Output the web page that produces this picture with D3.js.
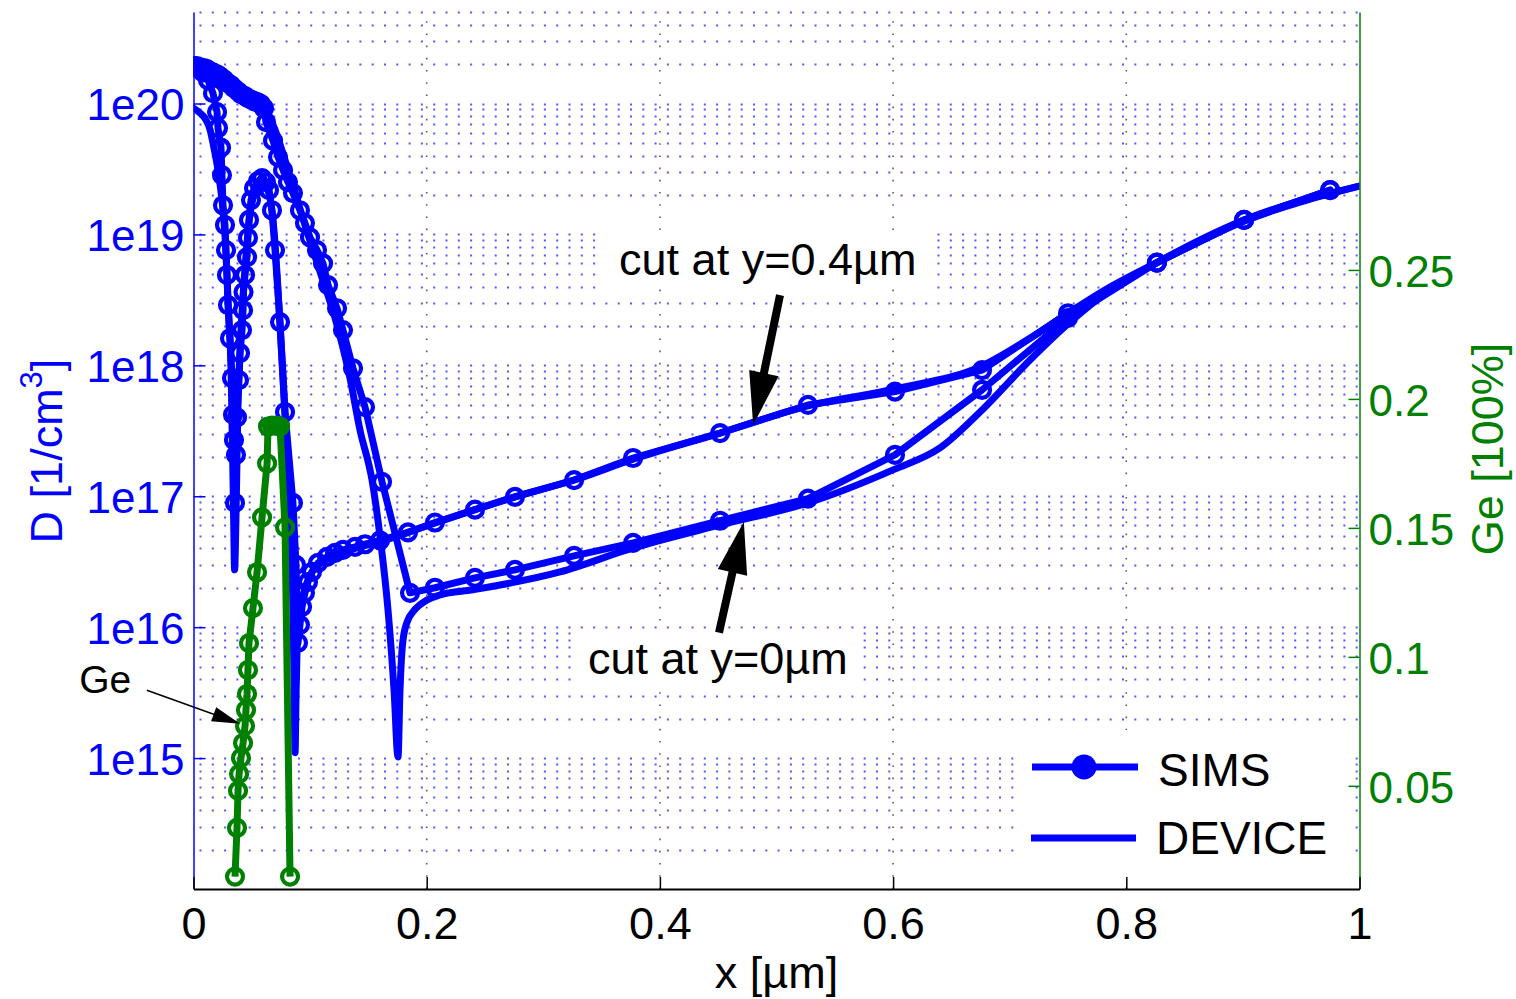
<!DOCTYPE html>
<html>
<head>
<meta charset="utf-8">
<script src="https://cdn.jsdelivr.net/npm/d3@7"></script>
<style>
  body { margin: 0; background: #fff; }
  svg { display: block; }
  text { font-family: "Liberation Sans", Arial, Helvetica, sans-serif; }
</style>
</head>
<body>
<svg id="chart" width="1516" height="999"></svg>
<script>
// ---------------- axis ticks ----------------
const xTicks = [0, 0.2, 0.4, 0.6, 0.8, 1];
const dTicks = [1e15, 1e16, 1e17, 1e18, 1e19, 1e20];
const geTicks = [0.05, 0.1, 0.15, 0.2, 0.25];

// ---------------- cut at y = 0.4 µm ----------------
const simsCut04X = [0, 0.0039, 0.0081, 0.0124, 0.0167, 0.0202, 0.0210, 0.0236, 0.0244, 0.0253,
  0.0270, 0.0279, 0.0287, 0.0296, 0.0313, 0.0330, 0.0339, 0.0347, 0.0356, 0.0364,
  0.0373, 0.0390, 0.0399, 0.0416, 0.0425, 0.0429, 0.0442, 0.0459, 0.0467, 0.0476,
  0.0493, 0.0519, 0.0553, 0.0588, 0.0622, 0.0648, 0.0673, 0.0699, 0.0742, 0.0785,
  0.0853, 0.0879, 0.0896, 0.0913, 0.0931, 0.0956, 0.0982, 0.1016, 0.1068, 0.1145,
  0.1214, 0.1282, 0.1385, 0.1471, 0.1600, 0.1840, 0.2071, 0.2414, 0.2757, 0.3264,
  0.3770, 0.4516, 0.5270, 0.6016, 0.6763, 0.7500, 0.8263, 0.9010, 0.9748];
const simsCut04D = [1.93e20, 1.86e20, 1.73e20, 1.51e20, 1.2e20, 8.6e19, 6.5e19, 4.6e19, 2.84e19, 1.67e19,
  1.18e19, 7.6e18, 4.9e18, 2.89e18, 1.61e18, 8.0e17, 4.2e17, 2.69e17, 8.9e16, 2.07e17,
  4.0e17, 7.7e17, 1.24e18, 1.86e18, 2.64e18, 3.63e18, 4.9e18, 6.7e18, 9.4e18, 1.29e19,
  1.83e19, 2.26e19, 2.55e19, 2.69e19, 2.51e19, 2.18e19, 1.53e19, 7.6e18, 2.14e18, 4.4e17,
  8.9e16, 2.99e16, 7.6e15, 1.04e16, 1.43e16, 1.83e16, 2.21e16, 2.64e16, 3.10e16, 3.44e16,
  3.7e16, 3.9e16, 4.1e16, 4.3e16, 4.6e16, 5.3e16, 6.3e16, 7.9e16, 9.9e16, 1.33e17,
  1.96e17, 3.04e17, 4.98e17, 6.3e17, 9.2e17, 2.5e18, 6.1e18, 1.29e19, 2.18e19];

const devCut04X = [0, 0.0047, 0.0099, 0.0142, 0.0167, 0.0193, 0.0210, 0.0244, 0.0270, 0.0287,
  0.0304, 0.0322, 0.0330, 0.0339, 0.0347, 0.0352, 0.0364, 0.0373, 0.0382, 0.0399,
  0.0425, 0.0450, 0.0476, 0.0510, 0.0553, 0.0588, 0.0622, 0.0656, 0.0690, 0.0725,
  0.0768, 0.0810, 0.0836, 0.0853, 0.0862, 0.0871, 0.0879, 0.0888, 0.0905, 0.0931,
  0.0965, 0.1016, 0.1085, 0.1214, 0.1385, 0.1600, 0.1840, 0.2414, 0.2757, 0.3264,
  0.3770, 0.4516, 0.5270, 0.6016, 0.6763, 0.7174, 0.7500, 0.7860, 0.8263, 0.9010, 1.0];
const devCut04D = [9.2e19, 8.6e19, 7.7e19, 6.3e19, 5.0e19, 3.8e19, 3.1e19, 1.83e19, 9.9e18, 4.9e18,
  2.22e18, 9.2e17, 3.8e17, 1.33e17, 4.6e16, 2.74e16, 6.6e16, 1.89e17, 5.4e17, 1.31e18,
  3.4e18, 6.9e18, 1.24e19, 1.89e19, 2.34e19, 2.51e19, 2.34e19, 1.89e19, 1.08e19, 3.76e18,
  7.7e17, 1.59e17, 4.6e16, 1.36e16, 4.0e15, 1.1e15, 2.8e15, 6.6e15, 1.13e16, 1.61e16,
  2.1e16, 2.64e16, 3.05e16, 3.5e16, 4.0e16, 4.5e16, 5.3e16, 7.9e16, 9.9e16, 1.33e17,
  1.92e17, 3.04e17, 4.9e17, 6.6e17, 9.9e17, 1.61e18, 2.5e18, 3.96e18, 6.1e18, 1.26e19, 2.34e19];

// ---------------- cut at y = 0 µm ----------------
const simsCut0X = [0, 0.003, 0.0056, 0.009, 0.0116, 0.0142, 0.0167, 0.0202, 0.0227, 0.0262,
  0.0287, 0.0322, 0.0347, 0.0382, 0.0407, 0.0442, 0.0467, 0.0502, 0.0527, 0.0553,
  0.0579, 0.0605, 0.0622, 0.0682, 0.0725, 0.0768, 0.0810, 0.0853, 0.0913, 0.0956,
  0.0999, 0.1059, 0.1111, 0.1154, 0.1231, 0.1282, 0.1368, 0.1471, 0.1617, 0.1857,
  0.2071, 0.2414, 0.2757, 0.3264, 0.3770, 0.4516, 0.5270, 0.6016, 0.6763, 0.7500,
  0.8263, 0.9010, 0.9748];
const simsCut0D = [1.93e20, 1.93e20, 1.89e20, 1.86e20, 1.83e20, 1.76e20, 1.73e20, 1.67e20, 1.62e20, 1.53e20,
  1.45e20, 1.38e20, 1.31e20, 1.24e20, 1.18e20, 1.14e20, 1.10e20, 1.06e20, 1.04e20, 1.02e20,
  9.9e19, 9.2e19, 7.2e19, 5.2e19, 3.9e19, 3.1e19, 2.51e19, 2.07e19, 1.53e19, 1.22e19,
  9.5e18, 7.6e18, 6.0e18, 4.1e18, 2.73e18, 1.86e18, 9.5e17, 4.8e17, 1.29e17, 1.83e16,
  2.0e16, 2.38e16, 2.74e16, 3.5e16, 4.4e16, 6.5e16, 9.6e16, 2.07e17, 6.5e17, 2.3e18,
  6.1e18, 1.29e19, 2.18e19];

const devCut0X = [0, 0.0167, 0.0347, 0.0527, 0.0613, 0.0699, 0.0785, 0.0871, 0.0956, 0.1085,
  0.1214, 0.1342, 0.1428, 0.1531, 0.1600, 0.1668, 0.1720, 0.1754, 0.1771, 0.1797,
  0.1840, 0.1883, 0.2003, 0.2114, 0.2397, 0.3143, 0.3770, 0.4516, 0.5270, 0.5999,
  0.6402, 0.6763, 0.7174, 0.7517, 0.7860, 0.8263, 0.9010, 1.0];
const devCut0D = [1.93e20, 1.76e20, 1.36e20, 1.06e20, 9.2e19, 6.3e19, 3.7e19, 2.1e19, 1.18e19, 5.2e18,
  2.3e18, 8.0e17, 3.2e17, 1.33e17, 4.9e16, 1.36e16, 3.3e15, 1.02e15, 3.3e15, 8.0e15,
  1.14e16, 1.31e16, 1.61e16, 1.76e16, 1.93e16, 2.64e16, 4.03e16, 6.04e16, 8.9e16, 1.59e17,
  2.34e17, 4.56e17, 1.10e18, 2.14e18, 3.76e18, 6.1e18, 1.29e19, 2.34e19];

// ---------------- Ge fraction (SIMS) ----------------
const geX = [0.0356, 0.0373, 0.0382, 0.0391, 0.0407, 0.0425, 0.0442, 0.0450, 0.0459, 0.0467,
  0.0476, 0.0510, 0.0545, 0.0588, 0.0631, 0.0639, 0.0673, 0.0708, 0.0742, 0.0785, 0.0828];
const geFrac = [0.0148, 0.0337, 0.0481, 0.0546, 0.0608, 0.0666, 0.0732, 0.0794, 0.0856, 0.0949,
  0.1053, 0.1189, 0.1328, 0.1541, 0.175, 0.1893, 0.1897, 0.1897, 0.1893, 0.1502, 0.0148];

// ---------------- drawing ----------------
const BLUE = "#0000ff", GREEN = "#008000";
const LINE_W = 7, MARK_R = 8, MARK_W = 4.2;
const svg = d3.select("#chart");
svg.append("rect").attr("width", 1516).attr("height", 999).attr("fill", "#fff");

const x = d3.scaleLinear().domain([0, 1]).range([193.5, 1359.5]);
const yD = d3.scaleLog().domain([1e14, 5e20]).range([889, 12]);
const yG = d3.scaleLinear().domain([0.01, 0.35]).range([889, 12]);

const [L, R] = x.range();
const [B, T] = yD.range();

// minor log positions
const minorD = [];
for (let e = 14; e <= 20; e++) {
  for (let k = 2; k <= 9; k++) {
    const v = k * Math.pow(10, e);
    if (v <= 5e20) minorD.push(v);
  }
}

// grid
const grid = svg.append("g");
grid.selectAll("line.h").data(minorD.concat(dTicks)).join("line")
  .attr("x1", L + 6).attr("x2", R)
  .attr("y1", d => Math.round(yD(d)) + 0.5).attr("y2", d => Math.round(yD(d)) + 0.5)
  .attr("stroke", "#3a3aff").attr("stroke-opacity", 0.85).attr("stroke-width", 2)
  .attr("stroke-dasharray", "2 10.3");
grid.selectAll("line.v").data(xTicks.filter(d => d > 0 && d < 1)).join("line")
  .attr("x1", d => x(d)).attr("x2", d => x(d)).attr("y1", B).attr("y2", T)
  .attr("stroke", "#333").attr("stroke-opacity", 0.8).attr("stroke-width", 1.6)
  .attr("stroke-dasharray", "1.6 10.6");

const plot = svg.append("g");
svg.append("clipPath").attr("id", "clip").append("rect")
  .attr("x", L).attr("y", T - 20).attr("width", R - L).attr("height", B - T + 20);
plot.attr("clip-path", "url(#clip)");

const pts = (xs, ys) => xs.map((v, i) => [v, ys[i]]);
const lineD = d3.line().x(d => x(d[0])).y(d => yD(d[1]));
const lineDev = d3.line().x(d => x(d[0])).y(d => yD(d[1])).curve(d3.curveMonotoneX);
const lineG = d3.line().x(d => x(d[0])).y(d => yG(d[1]));

const series = [
  { p: pts(devCut0X, devCut0D), dev: true },
  { p: pts(devCut04X, devCut04D), dev: true },
  { p: pts(simsCut0X, simsCut0D), dev: false },
  { p: pts(simsCut04X, simsCut04D), dev: false }
];
series.forEach(s => {
  plot.append("path").attr("d", (s.dev ? lineDev : lineD)(s.p))
    .attr("fill", "none").attr("stroke", BLUE).attr("stroke-width", LINE_W)
    .attr("stroke-linejoin", "round").attr("stroke-linecap", "round");
});
series.filter(s => !s.dev).forEach(s => {
  plot.append("g").selectAll("circle").data(s.p).join("circle")
    .attr("cx", d => x(d[0])).attr("cy", d => yD(d[1])).attr("r", MARK_R)
    .attr("fill", "none").attr("stroke", BLUE).attr("stroke-width", MARK_W);
});

const gePts = pts(geX, geFrac);
plot.append("path").attr("d", lineG(gePts))
  .attr("fill", "none").attr("stroke", GREEN).attr("stroke-width", LINE_W)
  .attr("stroke-linejoin", "round");
plot.append("g").selectAll("circle").data(gePts).join("circle")
  .attr("cx", d => x(d[0])).attr("cy", d => yG(d[1])).attr("r", MARK_R)
  .attr("fill", "none").attr("stroke", GREEN).attr("stroke-width", MARK_W);

// annotations
function arrowPoly(x0, y0, x1, y1, shaft, headL, headW) {
  const dx = x1 - x0, dy = y1 - y0, len = Math.hypot(dx, dy);
  const ux = dx / len, uy = dy / len, px = -uy, py = ux;
  const bx = x1 - ux * headL, by = y1 - uy * headL;
  return [
    [x0 + px * shaft / 2, y0 + py * shaft / 2],
    [bx + px * shaft / 2, by + py * shaft / 2],
    [bx + px * headW / 2, by + py * headW / 2],
    [x1, y1],
    [bx - px * headW / 2, by - py * headW / 2],
    [bx - px * shaft / 2, by - py * shaft / 2],
    [x0 - px * shaft / 2, y0 - py * shaft / 2]
  ].map(p => p.join(",")).join(" ");
}

const ann = svg.append("g");
function label(txt, xv, dv, size) {
  const t = ann.append("text").attr("x", x(xv)).attr("y", yD(dv))
    .attr("font-size", size).attr("fill", "#000").text(txt);
  const bb = t.node().getBBox();
  ann.insert("rect", "text").attr("x", bb.x - 14).attr("y", bb.y - 4)
    .attr("width", bb.width + 28).attr("height", bb.height + 8).attr("fill", "#fff");
  return t;
}
label("cut at y=0.4µm", 0.365, 4.9e18, 45);
label("cut at y=0µm", 0.3383, 4.4e15, 45);
ann.append("text").attr("x", x(-0.098)).attr("y", yD(3.16e15))
  .attr("font-size", 39).attr("fill", "#000").text("Ge");

ann.append("polygon")
  .attr("points", arrowPoly(x(0.503), yD(3.44e18), x(0.480), yD(3.5e17), 8, 53, 30))
  .attr("fill", "#000");
ann.append("polygon")
  .attr("points", arrowPoly(x(0.4507), yD(9.1e15), x(0.472), yD(6.4e16), 8, 52, 30))
  .attr("fill", "#000");
ann.append("polygon")
  .attr("points", arrowPoly(x(-0.040), yD(3.3e15), x(0.0399), yD(1.83e15), 1.5, 28, 15))
  .attr("fill", "#000");

// legend
const lg = svg.append("g");
lg.append("rect").attr("x", 1022).attr("y", 730).attr("width", 325).attr("height", 155).attr("fill", "#fff");
lg.append("line").attr("x1", 1032).attr("x2", 1138).attr("y1", 767).attr("y2", 767)
  .attr("stroke", BLUE).attr("stroke-width", 7);
lg.append("circle").attr("cx", 1084).attr("cy", 767).attr("r", 12.5).attr("fill", BLUE);
lg.append("text").attr("x", 1158).attr("y", 786).attr("font-size", 46).text("SIMS");
lg.append("line").attr("x1", 1031).attr("x2", 1136).attr("y1", 838).attr("y2", 838)
  .attr("stroke", BLUE).attr("stroke-width", 7);
lg.append("text").attr("x", 1156).attr("y", 854).attr("font-size", 46).text("DEVICE");

// left axis (D, log)
const gl = svg.append("g").attr("transform", `translate(${L},0)`);
gl.call(d3.axisLeft(yD).tickValues(minorD).tickSize(-6).tickSizeOuter(0).tickFormat(""));
gl.call(d3.axisLeft(yD).tickValues(dTicks).tickSize(-12).tickSizeOuter(0)
  .tickPadding(9).tickFormat(d => "1e" + Math.round(Math.log10(d))));
gl.selectAll("line").attr("stroke", BLUE).attr("stroke-width", 1.5);
gl.selectAll("path.domain").attr("stroke", BLUE).attr("stroke-width", 1.5);
gl.selectAll("text").attr("fill", BLUE).attr("font-size", 44)
  .attr("font-family", '"Liberation Sans", Arial, sans-serif').attr("dy", "0.37em");

// right axis (Ge)
const gr = svg.append("g").attr("transform", `translate(${R},0)`);
gr.call(d3.axisRight(yG).tickValues(geTicks).tickSize(-11).tickSizeOuter(0)
  .tickPadding(9).tickFormat(d => String(d)));
gr.selectAll("line").attr("stroke", GREEN).attr("stroke-width", 1.5);
gr.selectAll("path.domain").attr("stroke", GREEN).attr("stroke-width", 1.5);
gr.selectAll("text").attr("fill", GREEN).attr("font-size", 44)
  .attr("font-family", '"Liberation Sans", Arial, sans-serif').attr("dy", "0.37em");

// bottom axis (x)
const gb = svg.append("g").attr("transform", `translate(0,${B})`);
gb.call(d3.axisBottom(x).tickValues(xTicks).tickSize(-12).tickSizeOuter(0)
  .tickPadding(18).tickFormat(d => String(d)));
gb.selectAll("line").attr("stroke", "#000").attr("stroke-width", 1.5);
gb.selectAll("path.domain").attr("stroke", "#000").attr("stroke-width", 2);
gb.selectAll("text").attr("fill", "#000").attr("font-size", 45)
  .attr("font-family", '"Liberation Sans", Arial, sans-serif').attr("dy", "0.71em");

// axis titles
svg.append("text").attr("x", (L + R) / 2).attr("y", 988).attr("text-anchor", "middle")
  .attr("font-size", 45).attr("fill", "#000").text("x [µm]");

const yl = svg.append("text").attr("transform", "translate(62,451) rotate(-90)")
  .attr("text-anchor", "middle").attr("font-size", 45).attr("fill", BLUE);
yl.append("tspan").text("D [1/cm");
yl.append("tspan").attr("font-size", 31).attr("dy", -20).text("3");
yl.append("tspan").attr("dy", 20).text("]");

svg.append("text").attr("transform", "translate(1503,449) rotate(-90)")
  .attr("text-anchor", "middle").attr("font-size", 45).attr("fill", GREEN).text("Ge [100%]");
</script>
</body>
</html>
